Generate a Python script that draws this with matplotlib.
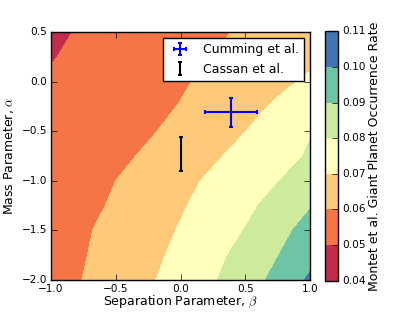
import numpy as np
import matplotlib
matplotlib.use('Agg')
import matplotlib.pyplot as plt

plt.style.use('classic')
plt.rcParams['mathtext.fontset'] = 'cm'
plt.rcParams['font.size'] = 9
plt.rcParams['xtick.labelsize'] = 7.6
plt.rcParams['ytick.labelsize'] = 7.6

# grid
beta = [-1.0, -0.75, -0.5, -0.25, 0.0, 0.25, 0.5, 0.75, 1.0]
alpha = [-2.0, -1.75, -1.5, -1.25, -1.0, -0.75, -0.5, -0.25, 0.0, 0.25, 0.5]

# occurrence rate, one row per alpha value (bottom to top)
rate = [
    [0.0560, 0.0602, 0.0645, 0.0688, 0.0738, 0.0791, 0.0855, 0.0927, 0.1015],
    [0.0555, 0.0595, 0.0635, 0.0676, 0.0721, 0.0773, 0.0832, 0.0897, 0.0970],
    [0.0551, 0.0589, 0.0628, 0.0666, 0.0706, 0.0754, 0.0803, 0.0868, 0.0937],
    [0.0540, 0.0573, 0.0613, 0.0652, 0.0691, 0.0734, 0.0779, 0.0832, 0.0893],
    [0.0530, 0.0562, 0.0600, 0.0638, 0.0676, 0.0715, 0.0756, 0.0797, 0.0846],
    [0.0525, 0.0553, 0.0581, 0.0612, 0.0650, 0.0688, 0.0727, 0.0768, 0.0809],
    [0.0520, 0.0544, 0.0568, 0.0591, 0.0624, 0.0661, 0.0699, 0.0747, 0.0795],
    [0.0515, 0.0537, 0.0558, 0.0580, 0.0603, 0.0639, 0.0674, 0.0712, 0.0753],
    [0.0508, 0.0529, 0.0549, 0.0570, 0.0591, 0.0618, 0.0649, 0.0681, 0.0713],
    [0.0496, 0.0517, 0.0538, 0.0558, 0.0579, 0.0600, 0.0627, 0.0655, 0.0682],
    [0.0487, 0.0507, 0.0527, 0.0548, 0.0568, 0.0588, 0.0610, 0.0635, 0.0660],
]
levels = [0.04, 0.05, 0.06, 0.07, 0.08, 0.09, 0.10, 0.11]

# Cumming et al. and Cassan et al. constraints
cumming_beta, cumming_beta_err = 0.39, 0.2
cumming_alpha, cumming_alpha_err = -0.31, 0.15
cassan_beta = 0.0
cassan_alpha, cassan_alpha_err = -0.73, 0.17

fig = plt.figure(figsize=(4.15, 3.12), dpi=100)
fig.patch.set_facecolor('white')
ax = fig.add_axes([0.123, 0.103, 0.624, 0.794])

cs = ax.contourf(beta, alpha, np.array(rate), levels=levels, cmap='Spectral')

ax.errorbar(cumming_beta, cumming_alpha, xerr=cumming_beta_err, yerr=cumming_alpha_err,
            fmt='none', ecolor='blue', elinewidth=1.5, capsize=1.6, capthick=1.5,
            label='Cumming et al.')
ax.errorbar(cassan_beta, cassan_alpha, yerr=cassan_alpha_err,
            fmt='none', ecolor='black', elinewidth=1.5, capsize=1.6, capthick=1.5,
            label='Cassan et al.')

ax.set_xlim(-1, 1)
ax.set_ylim(-2, 0.5)
ax.set_xticks([-1.0, -0.5, 0.0, 0.5, 1.0])
ax.set_yticks([-2.0, -1.5, -1.0, -0.5, 0.0, 0.5])
ax.tick_params(pad=3)
ax.set_xlabel(r'Separation Parameter, $\beta$', labelpad=0)
ax.set_ylabel(r'Mass Parameter, $\alpha$', labelpad=4)
ax.legend(loc='upper right', fontsize=9, numpoints=1)

cax = fig.add_axes([0.783, 0.10, 0.031, 0.80])
cb = fig.colorbar(cs, cax=cax, ticks=levels)
cb.ax.tick_params(labelsize=7.6, pad=3)
cb.set_label('Montet et al. Giant Planet Occurrence Rate', labelpad=2)

fig.savefig('out.png', dpi=100, facecolor='white')
